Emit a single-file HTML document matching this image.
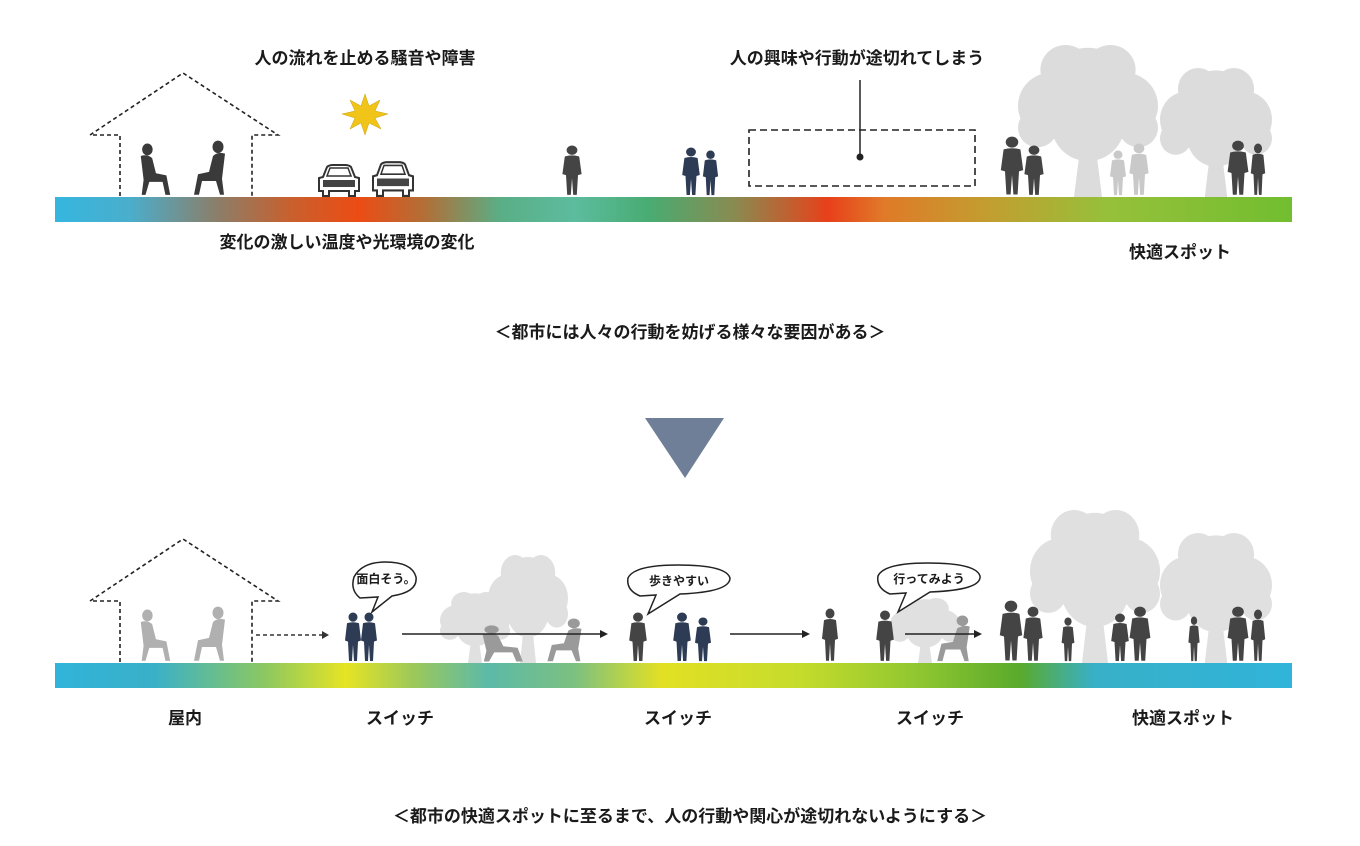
<!DOCTYPE html>
<html><head><meta charset="utf-8"><style>
html,body{margin:0;padding:0;background:#fff;}
svg text{font-family:"Liberation Sans","Noto Sans CJK JP",sans-serif;fill:#1a1a1a;font-weight:bold;}
</style></head><body>
<svg width="1360" height="841" viewBox="0 0 1360 841" xmlns="http://www.w3.org/2000/svg">
<defs>
<linearGradient id="g1" x1="55" x2="1292" y1="0" y2="0" gradientUnits="userSpaceOnUse">
<stop offset="0" stop-color="#35b6df"/>
<stop offset="0.06" stop-color="#4aaecc"/>
<stop offset="0.13" stop-color="#8a7f6a"/>
<stop offset="0.19" stop-color="#c8602e"/>
<stop offset="0.245" stop-color="#ec4c14"/>
<stop offset="0.30" stop-color="#b07038"/>
<stop offset="0.36" stop-color="#5aae86"/>
<stop offset="0.42" stop-color="#5cbc9e"/>
<stop offset="0.48" stop-color="#48ac72"/>
<stop offset="0.55" stop-color="#8a8a50"/>
<stop offset="0.60" stop-color="#c85a2c"/>
<stop offset="0.625" stop-color="#e8401a"/>
<stop offset="0.67" stop-color="#e07a28"/>
<stop offset="0.76" stop-color="#c0a030"/>
<stop offset="0.85" stop-color="#96c03a"/>
<stop offset="1" stop-color="#72be30"/>
</linearGradient>
<linearGradient id="g2" x1="55" x2="1292" y1="0" y2="0" gradientUnits="userSpaceOnUse">
<stop offset="0" stop-color="#30b4da"/>
<stop offset="0.08" stop-color="#3ab0c8"/>
<stop offset="0.17" stop-color="#8cc860"/>
<stop offset="0.235" stop-color="#e6e424"/>
<stop offset="0.29" stop-color="#9cc85a"/>
<stop offset="0.35" stop-color="#5cbaa8"/>
<stop offset="0.42" stop-color="#7cc080"/>
<stop offset="0.49" stop-color="#e2e024"/>
<stop offset="0.60" stop-color="#c6dc2c"/>
<stop offset="0.70" stop-color="#8ec630"/>
<stop offset="0.78" stop-color="#5aaa2c"/>
<stop offset="0.84" stop-color="#38b0c8"/>
<stop offset="1" stop-color="#30b4da"/>
</linearGradient>
<symbol id="p" viewBox="0 0 20 50" preserveAspectRatio="none">
<circle cx="10" cy="5" r="4.5"/>
<path d="M4 11 Q10 9 16 11 L18 28 L15 29 L14 48 L11 48 L10 32 L9 48 L6 48 L5 29 L2 28 Z"/>
</symbol>
<symbol id="s" viewBox="0 0 40 50" preserveAspectRatio="none">
<circle cx="12" cy="6" r="5.5"/>
<path d="M5 12 Q12 10 17 14 L21 28 L32 30 L36 48 L31 48 L28 36 L14 36 L10 48 L6 48 L8 34 Z"/>
</symbol>
<symbol id="t" viewBox="0 0 100 110" preserveAspectRatio="none">
<circle cx="50" cy="32" r="30"/><circle cx="24" cy="44" r="24"/><circle cx="76" cy="44" r="24"/>
<circle cx="50" cy="58" r="26"/><circle cx="34" cy="18" r="18"/><circle cx="66" cy="18" r="18"/>
<circle cx="14" cy="60" r="14"/><circle cx="86" cy="60" r="14"/>
<path d="M45 70 L55 70 L60 110 L40 110 Z"/>
</symbol>
<symbol id="car" viewBox="0 0 44 34" preserveAspectRatio="none">
<path d="M6 14 L10 4 Q12 2 16 2 L28 2 Q32 2 34 4 L38 14 L42 15 L42 28 L38 28 L38 33 L32 33 L32 28 L12 28 L12 33 L6 33 L6 28 L2 28 L2 15 Z" fill="#fff" stroke="#333" stroke-width="2"/>
<path d="M10 13 L13 5 L31 5 L34 13 Z" fill="#fff" stroke="#333" stroke-width="1.5"/>
<rect x="6" y="17" width="32" height="7" fill="#444"/>
</symbol>
</defs>

<!-- TOP -->
<text x="365" y="64" font-size="17" text-anchor="middle">人の流れを止める騒音や障害</text>
<text x="857" y="64" font-size="17" text-anchor="middle">人の興味や行動が途切れてしまう</text>

<path d="M120 196 V135 H90 L183 73 L278 135 H252 V196" fill="none" stroke="#222" stroke-width="1.6" stroke-dasharray="4,3"/>
<g fill="#3a3a3a">
<use href="#s" x="136" y="143" width="38" height="54"/>
<use href="#s" x="190" y="140" width="40" height="57" transform="translate(420 0) scale(-1 1)"/>
</g>
<polygon points="365,94 369,106 380,100 375,111 388,114 375,118 381,129 369,123 365,135 361,123 350,129 355,118 342,114 355,111 350,100 361,106" fill="#f0c418" stroke="#c9a010" stroke-width="0.5"/>
<use href="#car" x="317" y="163" width="44" height="34"/>
<use href="#car" x="371" y="160" width="44" height="37"/>

<g fill="#444"><use href="#p" x="560" y="145" width="24" height="52"/></g>
<g fill="#2e3b55"><use href="#p" x="680" y="147" width="22" height="50"/><use href="#p" x="701" y="150" width="19" height="47"/></g>
<rect x="749" y="130" width="226" height="56" fill="none" stroke="#222" stroke-width="1.6" stroke-dasharray="7,4"/>
<line x1="860" y1="80" x2="860" y2="157" stroke="#222" stroke-width="1.5"/>
<circle cx="860" cy="157" r="3.5" fill="#222"/>

<g fill="#dcdcdc">
<use href="#t" x="1018" y="45" width="140" height="152"/>
<use href="#t" x="1160" y="68" width="112" height="129"/>
</g>
<g fill="#c9c9c9"><use href="#p" x="1108" y="150" width="20" height="47"/><use href="#p" x="1127" y="143" width="24" height="54"/></g>
<g fill="#444"><use href="#p" x="998" y="136" width="28" height="61"/><use href="#p" x="1022" y="145" width="24" height="52"/>
<use href="#p" x="1225" y="140" width="26" height="57"/><use href="#p" x="1249" y="143" width="18" height="54"/></g>

<rect x="55" y="197" width="1237" height="25" fill="url(#g1)"/>
<text x="347" y="248" font-size="17" text-anchor="middle">変化の激しい温度や光環境の変化</text>
<text x="1180" y="258" font-size="17" text-anchor="middle">快適スポット</text>
<text x="690" y="338" font-size="17" text-anchor="middle">＜都市には人々の行動を妨げる様々な要因がある＞</text>

<polygon points="645,418 724,418 685,478" fill="#6f7f97"/>

<!-- BOTTOM -->
<path d="M120 662 V601 H90 L183 539 L278 601 H252 V662" fill="none" stroke="#222" stroke-width="1.6" stroke-dasharray="4,3"/>
<g fill="#b0b0b0">
<use href="#s" x="136" y="609" width="38" height="54"/>
<use href="#s" x="190" y="606" width="40" height="57" transform="translate(420 0) scale(-1 1)"/>
</g>
<line x1="256" y1="635" x2="322" y2="635" stroke="#333" stroke-width="1.6" stroke-dasharray="4,3"/>
<polygon points="322,631 329,635 322,639" fill="#333"/>

<g fill="#e0e0e0"><use href="#t" x="440" y="592" width="70" height="71"/><use href="#t" x="488" y="555" width="80" height="108"/>
<use href="#t" x="890" y="598" width="70" height="65"/>
<use href="#t" x="1030" y="510" width="130" height="153"/><use href="#t" x="1160" y="533" width="112" height="130"/></g>

<g fill="#2e3b55"><use href="#p" x="343" y="612" width="20" height="51"/><use href="#p" x="359" y="612" width="20" height="51"/>
<use href="#p" x="671" y="612" width="22" height="51"/><use href="#p" x="693" y="617" width="20" height="46"/></g>
<g fill="#9a9a9a"><use href="#s" x="476" y="625" width="52" height="38"/><use href="#s" x="543" y="618" width="44" height="45" transform="translate(1130 0) scale(-1 1)"/>
<use href="#s" x="933" y="615" width="42" height="48" transform="translate(1908 0) scale(-1 1)"/></g>
<g fill="#444"><use href="#p" x="627" y="612" width="22" height="51"/><use href="#p" x="820" y="608" width="20" height="55"/><use href="#p" x="874" y="610" width="22" height="53"/>
<use href="#p" x="997" y="600" width="28" height="63"/><use href="#p" x="1021" y="606" width="24" height="57"/><use href="#p" x="1060" y="617" width="16" height="46"/>
<use href="#p" x="1109" y="613" width="22" height="50"/><use href="#p" x="1127" y="606" width="26" height="57"/><use href="#p" x="1187" y="616" width="14" height="47"/>
<use href="#p" x="1225" y="606" width="26" height="57"/><use href="#p" x="1249" y="609" width="18" height="54"/></g>

<g stroke="#222" stroke-width="1.6">
<line x1="402" y1="634" x2="602" y2="634"/><line x1="730" y1="634" x2="804" y2="634"/><line x1="905" y1="634" x2="976" y2="634"/>
</g>
<g fill="#222"><polygon points="600,630 608,634 600,638"/><polygon points="802,630 810,634 802,638"/><polygon points="974,630 982,634 974,638"/></g>

<g fill="#fff" stroke="#222" stroke-width="1.5">
<path d="M360 598 Q350 590 354 577 Q362 562 385 562 Q412 562 416 577 Q418 592 392 596 L372 612 L378 597 Z"/>
<path d="M640 596 Q626 590 628 578 Q634 565 678 565 Q726 565 730 578 Q730 592 680 594 L648 614 L656 595 Z"/>
<path d="M890 594 Q876 588 878 576 Q884 563 928 563 Q976 563 980 576 Q982 590 930 592 L898 612 L906 593 Z"/>
</g>
<text x="386" y="583" font-size="12" text-anchor="middle">面白そう。</text>
<text x="679" y="585" font-size="12" text-anchor="middle">歩きやすい</text>
<text x="929" y="583" font-size="12" text-anchor="middle">行ってみよう</text>

<rect x="55" y="663" width="1237" height="25" fill="url(#g2)"/>
<text x="185" y="724" font-size="17" text-anchor="middle">屋内</text>
<text x="400" y="724" font-size="17" text-anchor="middle">スイッチ</text>
<text x="678" y="724" font-size="17" text-anchor="middle">スイッチ</text>
<text x="930" y="724" font-size="17" text-anchor="middle">スイッチ</text>
<text x="1183" y="724" font-size="17" text-anchor="middle">快適スポット</text>
<text x="690" y="822" font-size="17" text-anchor="middle">＜都市の快適スポットに至るまで、人の行動や関心が途切れないようにする＞</text>
</svg>
</body></html>
